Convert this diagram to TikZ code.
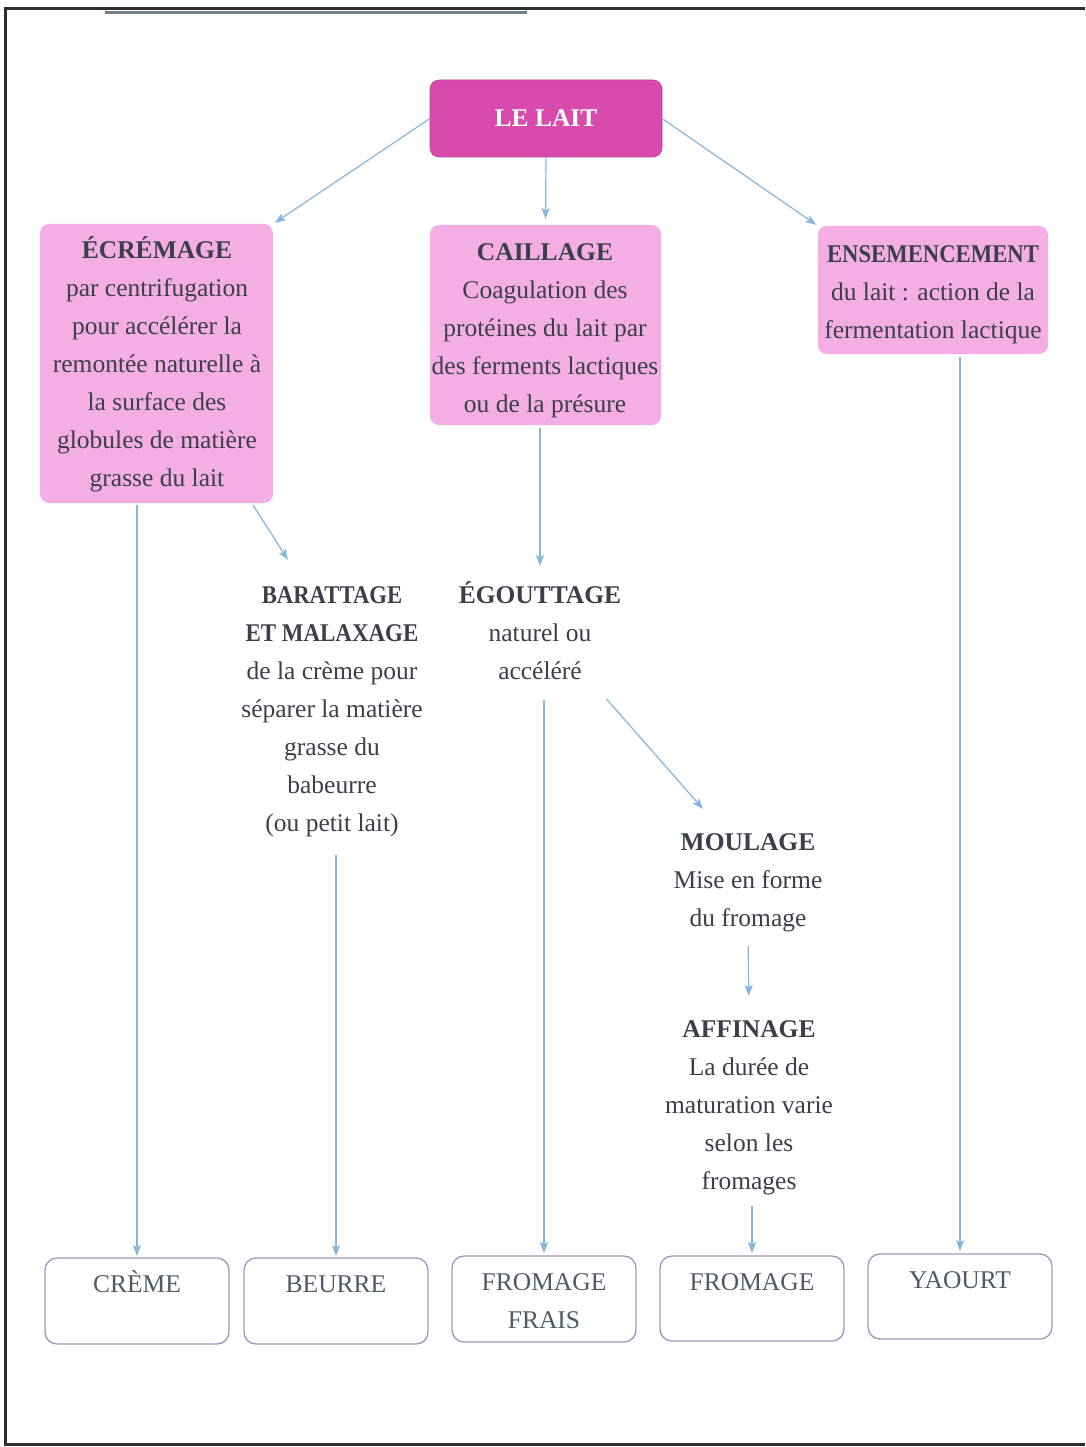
\documentclass[tikz,border=0pt]{standalone}
\usepackage{fontspec}
\newfontfamily\myserif{Liberation Serif}
\usetikzlibrary{arrows.meta,calc}
\definecolor{framec}{HTML}{2E2E2E}
\definecolor{topbar}{HTML}{6E7F8E}
\definecolor{laitc}{HTML}{D84BAD}
\definecolor{pinkc}{HTML}{F4AEE3}
\definecolor{arrc}{HTML}{86B6DC}
\definecolor{txtc}{HTML}{3A3F4A}
\definecolor{boxc}{HTML}{9C9CC0}
\definecolor{endc}{HTML}{4E5A66}
\newcommand\myfs{\myserif\fontsize{25.5}{38.1}\selectfont}
\newcommand\fl{\rule{0pt}{27pt}}
\begin{document}
\begin{tikzpicture}[x=1pt,y=-1pt,
  laitbox/.style={fill=laitc, draw=laitc!85!black, line width=0.6pt, rounded corners=9pt, inner sep=0pt, outer sep=0pt, text=white, font=\myfs\bfseries},
  pinkbox/.style={fill=pinkc, draw=none, rounded corners=9pt, inner sep=0pt, outer sep=0pt},
  endbox/.style={draw=boxc, line width=1.4pt, rounded corners=12pt, inner sep=0pt, outer sep=0pt, minimum width=184pt},
  txt/.style={anchor=north, inner sep=0pt, align=center, font=\myfs, text=txtc},
  endtxt/.style={anchor=north, inner sep=0pt, align=center, font=\myfs, text=endc},
  arr/.style={draw=arrc, line width=1.2pt, -{Stealth[length=11pt,width=8pt,inset=2.5pt]}}
]
\useasboundingbox (0,0) rectangle (1085,1447);
\fill[white] (0,0) rectangle (1085,1447);
% frame
\draw[framec, line width=3pt] (1085,9) -- (5,9) -- (5,1444) -- (1085,1444);
\draw[topbar, line width=3pt] (105,13) -- (527,13);

% boxes
\node[laitbox, minimum width=232pt, minimum height=77pt] (lait) at (546,118.5) {LE LAIT};
\node[pinkbox, minimum width=233pt, minimum height=279pt] (ecr) at (156.5,363.5) {};
\node[pinkbox, minimum width=231pt, minimum height=200pt] (cail) at (545.5,325) {};
\node[pinkbox, minimum width=230pt, minimum height=128pt] (ens) at (933,290) {};

\node[endbox, minimum height=86pt] (creme) at (137,1301) {};
\node[endbox, minimum height=86pt] (beurre) at (336,1301) {};
\node[endbox, minimum height=86pt] (frais) at (544,1299) {};
\node[endbox, minimum height=85pt] (fromage) at (752,1298.5) {};
\node[endbox, minimum height=85pt] (yaourt) at (960,1296.5) {};

% texts
\node[txt] (ecrt) at (157,231) {\fl\textbf{ÉCRÉMAGE}\\par centrifugation\\pour accélérer la\\remontée naturelle à\\la surface des\\globules de matière\\grasse du lait};
\node[txt] (cailt) at (545,233) {\fl\textbf{CAILLAGE}\\Coagulation des\\protéines du lait par\\des ferments lactiques\\ou de la présure};
\node[txt] (enst) at (933,235) {\fl\scalebox{0.89}[1]{\textbf{ENSEMENCEMENT}}\\du lait : action de la\\fermentation lactique};
\node[txt] (barat) at (332,576) {\fl\scalebox{0.89}[1]{\textbf{BARATTAGE}}\\\scalebox{0.9}[1]{\textbf{ET MALAXAGE}}\\de la crème pour\\séparer la matière\\grasse du\\babeurre\\(ou petit lait)};
\node[txt] (egout) at (540,576) {\fl\textbf{ÉGOUTTAGE}\\naturel ou\\accéléré};
\node[txt] (moul) at (748,823) {\fl\textbf{MOULAGE}\\Mise en forme\\du fromage};
\node[txt] (affin) at (749,1010) {\fl\textbf{AFFINAGE}\\La durée de\\maturation varie\\selon les\\fromages};

\node[endtxt] (cremet) at ([yshift=-7pt]creme.north) {\fl CRÈME};
\node[endtxt] (beurret) at ([yshift=-7pt]beurre.north) {\fl BEURRE};
\node[endtxt] (fraist) at ([yshift=-7pt]frais.north) {\fl FROMAGE\\FRAIS};
\node[endtxt] (fromaget) at ([yshift=-7pt]fromage.north) {\fl FROMAGE};
\node[endtxt] (yaourtt) at ([yshift=-7pt]yaourt.north) {\fl YAOURT};

% arrows
\draw[arr, shorten >=2pt] (lait.west) -- (ecr.north east);
\draw[arr, shorten >=6pt] (lait.south) -- (cail.north);
\draw[arr, shorten >=2pt] (lait.east) -- (ens.north west);
\draw[arr, shorten <=2pt, shorten >=2pt] (ecr.south -| creme.north) -- (creme.north);
\draw[arr] ([xshift=-20pt,yshift=-2pt]ecr.south east) -- ([xshift=-44pt,yshift=16pt]barat.north);
\draw[arr, shorten <=18pt, shorten >=2pt] (barat.south -| beurre.north) -- (beurre.north);
\draw[arr, shorten <=3pt, shorten >=10pt] (cail.south -| egout.north) -- (egout.north);
\draw[arr, shorten <=20pt, shorten >=3pt] (egout.south -| frais.north) -- (frais.north);
\draw[arr] ([xshift=-15pt,yshift=-19pt]egout.south east) -- ([xshift=-45pt,yshift=14pt]moul.north);
\draw[arr, shorten <=14pt, shorten >=14pt] (moul.south) -- (affin.north);
\draw[arr, shorten <=11pt, shorten >=3pt] (affin.south -| fromage.north) -- (fromage.north);
\draw[arr, shorten <=3pt, shorten >=3pt] (ens.south -| yaourt.north) -- (yaourt.north);
\end{tikzpicture}
\end{document}
